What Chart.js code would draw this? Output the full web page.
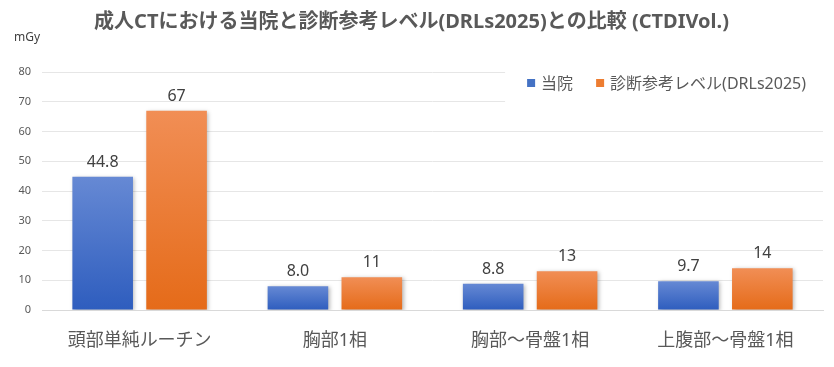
<!DOCTYPE html>
<html>
<head>
<meta charset="utf-8">
<script src="https://cdn.jsdelivr.net/npm/chart.js@4"></script>
<style>
  html, body { margin: 0; padding: 0; background: #fff; }
  #wrap { width: 834px; height: 367px; }
</style>
</head>
<body>
<div id="wrap"><canvas id="doseChart"></canvas></div>
<script>
const categories = ["頭部単純ルーチン", "胸部1相", "胸部～骨盤1相", "上腹部～骨盤1相"];
const hospitalValues = [44.8, 8.0, 8.8, 9.7];
const drlValues = [67, 11, 13, 14];
const seriesNames = ["当院", "診断参考レベル(DRLs2025)"];
const yTicks = { min: 0, max: 80, step: 10 };

const FONT = '"Noto Sans", "Noto Sans CJK JP", sans-serif';
const TEXT_GRAY = "#595959";

// vertical gradient per bar, from the bar top down to zero
function barGradient(ctx, top, bottom) {
    const chart = ctx.chart;
    if (!chart.chartArea || ctx.type !== "data") return bottom;
    const y = chart.scales.y;
    const yTop = y.getPixelForValue(ctx.raw);
    const yBase = y.getPixelForValue(0);
    const g = chart.ctx.createLinearGradient(0, yTop, 0, yBase);
    g.addColorStop(0, top);
    g.addColorStop(1, bottom);
    return g;
}

const barShadow = {
    id: "barShadow",
    beforeDatasetsDraw(chart) {
        const c = chart.ctx;
        c.save();
        c.shadowColor = "rgba(0,0,0,0.28)";
        c.shadowBlur = 4;
        c.shadowOffsetX = 1.5;
        c.shadowOffsetY = 1;
    },
    afterDatasetsDraw(chart) {
        chart.ctx.restore();
    }
};

const valueLabels = {
    id: "valueLabels",
    afterDatasetsDraw(chart) {
        const c = chart.ctx;
        c.save();
        c.font = "16px " + FONT;
        c.fillStyle = "#404040";
        c.textAlign = "center";
        c.textBaseline = "alphabetic";
        chart.data.datasets.forEach((ds, i) => {
            const meta = chart.getDatasetMeta(i);
            meta.data.forEach((bar, j) => {
                const v = ds.data[j];
                c.fillText(v.toFixed(ds.labelDecimals), bar.x, bar.y - 10);
            });
        });
        c.restore();
    }
};

// legend sitting inside the plot area, top right, on a white patch
const insideLegend = {
    id: "insideLegend",
    afterDatasetsDraw(chart) {
        const c = chart.ctx;
        const area = chart.chartArea;
        c.save();
        c.font = "16px " + FONT;
        const box = 8, gapText = 6, gapItem = 23;
        const items = chart.data.datasets.map(ds => ({
            text: ds.label, color: ds.legendColor, w: c.measureText(ds.label).width
        }));
        const total = items.reduce((s, it) => s + box + gapText + it.w, 0) + gapItem * (items.length - 1);
        let x = area.right - 17 - total;
        const y = area.top + 11;
        c.fillStyle = "#fff";
        c.fillRect(x - 22, area.top - 2, area.right - x + 22, 35);
        c.textBaseline = "middle";
        c.textAlign = "left";
        items.forEach(it => {
            c.fillStyle = it.color;
            c.fillRect(x, y - box / 2, box, box);
            x += box + gapText;
            c.fillStyle = TEXT_GRAY;
            c.fillText(it.text, x, y + 1);
            x += it.w + gapItem;
        });
        c.restore();
    }
};

const unitLabel = {
    id: "unitLabel",
    afterDraw(chart) {
        const c = chart.ctx;
        c.save();
        c.font = "12px " + FONT;
        c.fillStyle = "#404040";
        c.textBaseline = "middle";
        c.fillText("mGy", 14, 38);
        c.restore();
    }
};

new Chart(document.getElementById("doseChart"), {
    type: "bar",
    data: {
        labels: categories,
        datasets: [
            {
                label: seriesNames[0],
                data: hospitalValues,
                labelDecimals: 1,
                legendColor: "#4472c4",
                backgroundColor: ctx => barGradient(ctx, "#6689d4", "#2e5dbe"),
                categoryPercentage: 0.757,
                barPercentage: 0.82
            },
            {
                label: seriesNames[1],
                data: drlValues,
                labelDecimals: 0,
                legendColor: "#ed7d31",
                backgroundColor: ctx => barGradient(ctx, "#f18e55", "#e56b19"),
                categoryPercentage: 0.757,
                barPercentage: 0.82
            }
        ]
    },
    options: {
        responsive: true,
        maintainAspectRatio: false,
        animation: false,
        layout: {
            padding: { left: 0, right: 11, top: 0, bottom: 0 }
        },
        plugins: {
            legend: { display: false },
            tooltip: { enabled: false },
            title: {
                display: true,
                text: "成人CTにおける当院と診断参考レベル(DRLs2025)との比較 (CTDIVol.)",
                color: TEXT_GRAY,
                font: { family: FONT, size: 20, weight: "bold" },
                padding: { top: 10, bottom: 38 }
            }
        },
        scales: {
            x: {
                grid: { display: false },
                border: { color: "#d9d9d9" },
                ticks: {
                    color: TEXT_GRAY,
                    font: { family: FONT, size: 18 },
                    padding: 12
                },
                afterFit(scale) { scale.height = 57; }
            },
            y: {
                min: yTicks.min,
                max: yTicks.max,
                border: { display: false },
                grid: { color: "#e6e6e6", drawTicks: false },
                ticks: {
                    stepSize: yTicks.step,
                    color: TEXT_GRAY,
                    font: { family: FONT, size: 11 },
                    padding: 11
                },
                afterFit(scale) { scale.width = 42; }
            }
        }
    },
    plugins: [barShadow, valueLabels, insideLegend, unitLabel]
});
</script>
</body>
</html>
